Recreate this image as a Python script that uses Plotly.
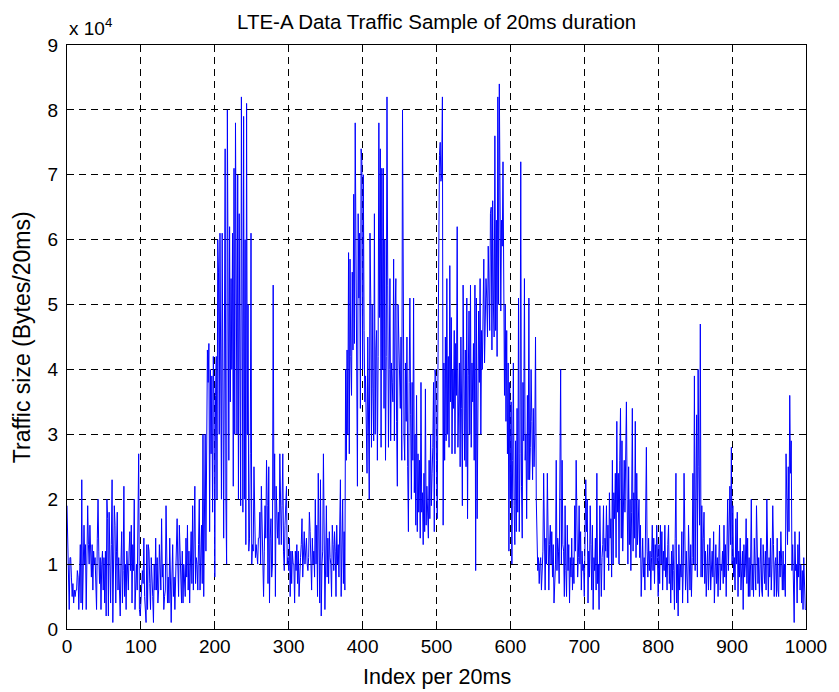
import plotly.graph_objects as go

# Traffic size per 20 ms interval, in units of 10^4 bytes (index 0..1000)
traffic = [
    1.9, 1.1, 0.6, 0.3, 1.1, 1.1, 0.8, 0.5, 0.7, 0.4,
    0.6, 0.5, 0.6, 0.6, 0.9, 0.8, 0.3, 0.9, 1.3, 0.4,
    2.3, 0.3, 1.2, 1.6, 1.0, 1.3, 0.3, 1.6, 1.9, 1.3,
    1.0, 1.6, 1.0, 0.8, 1.3, 0.6, 1.2, 1.0, 1.1, 0.8,
    0.3, 1.4, 2.0, 1.2, 0.7, 1.1, 0.3, 1.0, 1.2, 0.6,
    1.1, 0.4, 1.2, 0.2, 2.0, 1.7, 0.2, 1.8, 0.8, 0.4,
    1.3, 2.3, 0.1, 1.3, 1.9, 1.6, 0.4, 1.2, 1.8, 0.6,
    1.1, 0.6, 0.2, 1.0, 1.5, 0.4, 0.9, 2.2, 0.5, 1.0,
    0.3, 1.2, 1.0, 0.6, 1.2, 1.5, 0.9, 1.6, 0.4, 1.3,
    0.9, 2.0, 0.3, 0.7, 1.0, 0.6, 1.4, 2.7, 0.3, 0.2,
    0.4, 0.8, 0.9, 0.7, 1.4, 0.5, 0.3, 0.1, 1.3, 0.3,
    1.3, 1.2, 0.7, 0.3, 1.1, 0.9, 0.5, 0.1, 1.0, 0.6,
    1.4, 0.6, 1.1, 0.4, 0.6, 1.3, 0.9, 0.6, 1.7, 0.8,
    1.0, 0.3, 0.5, 0.6, 1.9, 1.0, 0.4, 0.8, 0.4, 1.4,
    0.8, 0.1, 0.8, 1.3, 0.5, 0.8, 0.3, 0.8, 1.3, 1.7,
    1.0, 0.5, 1.6, 1.3, 0.9, 0.4, 1.2, 0.4, 1.0, 0.7,
    0.5, 1.4, 0.8, 1.6, 0.6, 1.2, 0.4, 1.0, 1.5, 0.7,
    1.9, 0.6, 1.2, 2.2, 0.7, 1.1, 1.0, 0.6, 1.3, 2.0,
    0.6, 1.2, 1.6, 0.7, 3.0, 0.5, 2.0, 3.0, 1.2, 4.0,
    4.3, 3.8, 4.4, 1.5, 4.0, 2.7, 3.9, 1.8, 4.2, 3.5,
    0.8, 3.6, 4.2, 2.0, 6.0, 5.5, 3.0, 6.1, 2.5, 2.0,
    6.1, 3.0, 1.4, 4.5, 7.4, 2.0, 1.0, 8.0, 5.6, 2.6,
    6.2, 3.5, 5.4, 4.0, 6.1, 2.2, 7.1, 3.0, 7.8, 5.0,
    3.0, 7.0, 2.0, 6.4, 4.3, 1.9, 8.2, 3.3, 1.8, 7.9,
    2.0, 6.0, 1.3, 8.1, 3.0, 5.0, 1.2, 1.4, 2.7, 6.1,
    1.0, 1.3, 1.2, 2.5, 1.2, 1.1, 1.3, 1.2, 1.0, 1.4,
    1.4, 1.8, 1.0, 2.2, 1.5, 0.8, 0.5, 1.2, 1.9, 1.4,
    2.6, 1.9, 0.7, 2.5, 0.4, 1.4, 1.7, 0.8, 1.0, 5.3,
    2.0, 2.7, 0.5, 2.2, 1.5, 1.4, 1.8, 1.3, 2.7, 1.5,
    1.3, 1.9, 2.7, 1.2, 0.9, 1.6, 1.9, 2.2, 1.0, 1.1,
    0.9, 1.4, 0.5, 1.2, 0.7, 1.2, 1.0, 1.0, 0.4, 1.2,
    0.9, 1.3, 0.7, 1.2, 0.5, 1.0, 1.1, 1.3, 1.7, 0.8,
    1.3, 1.5, 1.0, 1.2, 1.4, 1.0, 0.9, 1.1, 1.8, 1.5,
    1.0, 0.6, 1.4, 1.0, 1.2, 0.8, 2.0, 1.0, 1.6, 0.5,
    2.4, 1.5, 0.4, 2.3, 0.2, 1.0, 1.2, 2.7, 0.6, 0.3,
    1.0, 1.9, 0.8, 1.4, 0.7, 1.5, 1.1, 1.0, 0.5, 1.6,
    1.3, 0.9, 1.5, 1.2, 0.5, 1.6, 1.0, 1.3, 0.8, 1.5,
    2.3, 0.5, 1.2, 2.0, 0.7, 1.5, 0.6, 4.0, 2.6, 4.3,
    3.0, 5.8, 2.7, 5.7, 4.2, 3.6, 5.5, 4.3, 6.7, 4.4,
    7.8, 6.2, 5.0, 2.2, 6.4, 5.1, 6.1, 3.4, 7.4, 7.2,
    4.0, 7.0, 4.6, 3.5, 3.9, 3.3, 2.4, 4.5, 2.6, 2.0,
    6.1, 5.1, 2.8, 5.0, 3.7, 2.9, 6.4, 3.0, 4.3, 4.6,
    2.6, 4.2, 7.8, 4.8, 7.4, 2.8, 7.1, 4.0, 7.1, 3.4,
    6.0, 2.6, 4.2, 8.2, 5.3, 2.8, 4.0, 5.4, 2.9, 4.1,
    3.8, 3.5, 5.7, 2.9, 4.9, 5.4, 3.2, 2.2, 5.0, 4.6,
    4.2, 3.4, 4.5, 2.6, 8.0, 4.3, 3.0, 2.6, 4.1, 3.2,
    4.5, 2.5, 1.5, 3.8, 5.1, 3.3, 2.0, 3.8, 2.6, 5.1,
    2.1, 3.0, 1.6, 3.6, 1.5, 2.7, 1.8, 2.6, 1.4, 3.8,
    1.8, 2.1, 1.3, 2.4, 1.5, 3.7, 1.6, 2.2, 1.9, 1.4,
    2.6, 1.7, 3.0, 1.9, 2.4, 2.8, 3.8, 1.5, 4.0, 3.9,
    2.6, 1.7, 4.0, 7.1, 7.3, 7.5, 6.9, 7.0, 8.2, 1.6,
    4.1, 2.6, 4.5, 2.9, 5.4, 3.0, 4.2, 2.8, 5.6, 3.5,
    4.8, 2.7, 4.0, 3.4, 4.6, 2.7, 4.4, 3.6, 6.2, 2.8,
    3.7, 4.1, 2.5, 4.5, 3.4, 1.9, 5.3, 3.0, 2.6, 4.3,
    2.5, 5.1, 1.7, 3.9, 4.9, 3.0, 5.3, 2.8, 4.1, 3.5,
    4.4, 2.6, 5.3, 0.9, 5.1, 1.7, 3.8, 4.9, 3.8, 5.4,
    3.0, 4.6, 4.0, 5.2, 5.7, 4.1, 4.8, 5.4, 5.1, 4.5,
    5.9, 5.3, 4.6, 6.4, 6.5, 4.3, 6.6, 5.0, 4.5, 7.6,
    4.6, 6.3, 4.2, 8.2, 5.0, 8.4, 5.8, 4.9, 6.3, 5.9,
    7.2, 5.5, 3.6, 5.0, 3.2, 4.6, 2.7, 4.1, 1.2, 3.8,
    2.0, 3.5, 1.0, 2.6, 4.1, 1.9, 1.3, 2.9, 1.5, 3.4,
    1.8, 5.1, 1.5, 2.7, 7.2, 2.2, 1.4, 3.8, 2.9, 5.4,
    2.6, 3.0, 1.7, 3.6, 2.3, 5.1, 2.3, 2.8, 4.0, 3.2,
    2.3, 3.4, 2.5, 3.0, 4.5, 2.0, 1.0, 0.9, 1.1, 0.7,
    1.0, 1.1, 0.6, 1.0, 1.2, 2.4, 1.1, 0.6, 1.4, 1.0,
    2.4, 1.2, 0.6, 1.3, 1.6, 1.0, 1.5, 0.8, 1.3, 0.4,
    0.6, 1.0, 2.6, 0.9, 1.4, 1.2, 0.7, 1.8, 4.0, 1.0,
    2.6, 1.3, 1.2, 0.5, 1.9, 0.9, 0.5, 1.6, 0.9, 1.3,
    0.4, 1.1, 0.8, 1.4, 0.6, 1.1, 0.7, 1.9, 1.2, 2.6,
    1.3, 0.8, 1.1, 1.9, 1.0, 1.5, 0.6, 1.2, 0.9, 1.0,
    0.5, 1.6, 2.3, 1.5, 2.0, 0.4, 1.2, 0.8, 1.9, 1.3,
    0.6, 1.6, 0.3, 1.1, 0.9, 1.4, 0.6, 2.4, 0.7, 1.0,
    0.3, 1.9, 1.2, 0.5, 1.1, 1.3, 1.9, 0.6, 1.4, 1.2,
    1.9, 1.1, 1.6, 0.9, 2.1, 1.4, 1.7, 0.8, 2.6, 1.0,
    2.1, 1.7, 2.4, 1.1, 3.2, 1.8, 2.4, 1.0, 2.6, 3.4,
    1.4, 2.9, 1.2, 2.0, 2.6, 1.8, 2.4, 3.5, 2.0, 1.0,
    2.5, 1.3, 2.0, 0.9, 1.8, 3.4, 1.2, 2.1, 1.4, 3.2,
    1.1, 2.4, 1.3, 1.9, 2.0, 1.1, 1.6, 0.5, 1.0, 1.4,
    0.8, 1.1, 0.6, 1.7, 2.8, 1.2, 0.8, 1.4, 0.9, 1.2,
    0.6, 1.1, 1.6, 0.9, 1.4, 0.7, 1.3, 1.0, 1.6, 1.1,
    0.5, 1.3, 0.7, 1.6, 1.0, 1.5, 0.6, 1.2, 0.9, 1.6,
    0.8, 1.1, 0.6, 1.3, 1.6, 0.7, 1.0, 0.4, 1.2, 0.6,
    1.3, 0.9, 0.3, 1.4, 2.4, 0.4, 1.0, 0.2, 1.3, 0.6,
    1.0, 0.8, 1.5, 0.4, 1.0, 2.4, 0.9, 0.6, 1.2, 0.9,
    0.4, 1.6, 1.0, 0.6, 1.3, 0.5, 1.1, 2.4, 1.0, 3.9,
    0.9, 1.8, 3.3, 0.8, 4.0, 2.5, 1.6, 4.7, 0.8, 1.9,
    0.8, 1.4, 1.8, 0.7, 1.2, 0.5, 1.0, 1.3, 0.6, 1.1,
    1.4, 0.6, 0.9, 1.2, 0.8, 1.5, 0.4, 1.0, 1.3, 0.7,
    1.1, 0.5, 1.3, 1.6, 0.6, 1.0, 0.9, 1.2, 0.7, 1.6,
    0.8, 1.3, 0.5, 1.2, 2.0, 0.9, 1.5, 2.2, 1.3, 2.8,
    1.0, 1.9, 0.8, 1.1, 0.6, 1.7, 1.0, 1.8, 0.5, 1.2,
    0.8, 1.4, 0.6, 1.0, 1.2, 0.3, 1.3, 0.8, 1.0, 1.7,
    0.7, 1.4, 0.5, 1.1, 0.5, 1.0, 2.0, 0.6, 1.0, 0.5,
    1.4, 1.0, 0.6, 1.9, 1.3, 0.7, 1.1, 0.5, 1.0, 1.4,
    0.6, 0.5, 1.3, 1.1, 0.7, 1.2, 0.6, 2.0, 1.0, 0.5,
    1.1, 0.8, 1.4, 0.6, 1.0, 1.9, 1.3, 0.5, 1.0, 1.1,
    0.5, 1.4, 0.6, 0.5, 1.2, 0.8, 1.5, 1.0, 0.6, 1.2,
    0.6, 1.0, 0.5, 2.7, 1.6, 1.3, 2.5, 1.5, 3.6, 2.4,
    2.9, 0.9, 1.3, 0.5, 0.1, 1.5, 0.9, 1.0, 0.4, 1.3,
    0.8, 1.5, 0.6, 1.0, 0.4, 0.9, 0.3, 1.1, 0.6, 0.3,
    0.3,
]
index = list(range(len(traffic)))

x_ticks = [0, 100, 200, 300, 400, 500, 600, 700, 800, 900, 1000]
y_ticks = [0, 1, 2, 3, 4, 5, 6, 7, 8, 9]

FONT = "Liberation Sans, Arial, Helvetica, sans-serif"

fig = go.Figure(
    go.Scatter(
        x=index,
        y=traffic,
        mode="lines",
        line=dict(color="#0000ff", width=1),
        hoverinfo="skip",
    )
)

axis_common = dict(
    showline=True,
    linecolor="black",
    linewidth=1,
    mirror="ticks",
    ticks="inside",
    ticklen=5,
    tickcolor="black",
    showgrid=True,
    gridcolor="black",
    gridwidth=1,
    griddash="7px,5px",
    zeroline=False,
    tickfont=dict(family=FONT, size=19, color="black"),
)

fig.update_xaxes(range=[0, 1000], tickvals=x_ticks, **axis_common)
fig.update_yaxes(range=[0, 9], tickvals=y_ticks, ticklabelstandoff=4, **axis_common)

fig.update_layout(
    width=839,
    height=692,
    margin=dict(l=67, r=29, t=45, b=63),
    paper_bgcolor="white",
    plot_bgcolor="white",
    showlegend=False,
    annotations=[
        dict(text="LTE-A Data Traffic Sample of 20ms duration",
             x=0.5, y=1.0394, xref="paper", yref="paper",
             xanchor="center", yanchor="middle", showarrow=False,
             font=dict(family=FONT, size=20.5, color="black")),
        dict(text="Index per 20ms",
             x=0.5, y=-0.082, xref="paper", yref="paper",
             xanchor="center", yanchor="middle", showarrow=False,
             font=dict(family=FONT, size=21.5, color="black")),
        dict(text="Traffic size (Bytes/20ms)",
             x=-0.0606, y=0.5, xref="paper", yref="paper",
             xanchor="center", yanchor="middle", textangle=-90, showarrow=False,
             font=dict(family=FONT, size=23, color="black")),
        dict(text="x 10<sup>4</sup>",
             x=0.0, y=1.006, xref="paper", yref="paper",
             xanchor="left", yanchor="bottom", showarrow=False,
             font=dict(family=FONT, size=19, color="black")),
    ],
)

fig.write_html("out.html")
